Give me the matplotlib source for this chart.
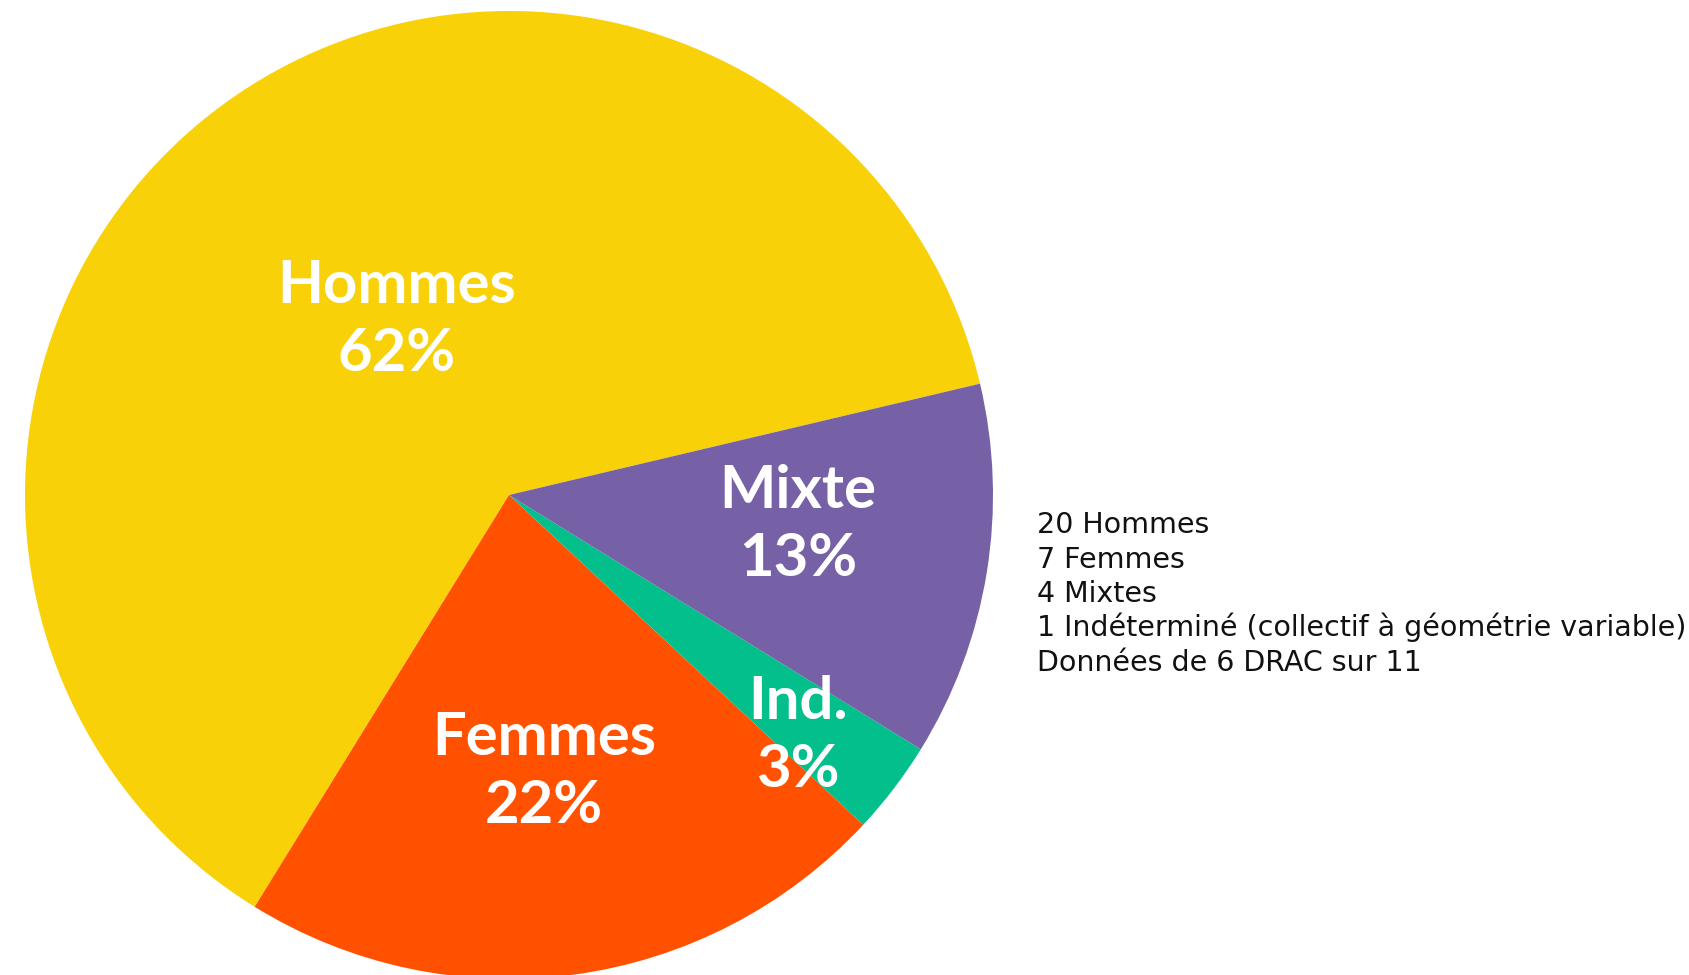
import matplotlib
matplotlib.use("Agg")
import matplotlib.pyplot as plt

categories = ["Hommes", "Femmes", "Ind.", "Mixte"]
counts = [20, 7, 1, 4]
percent_labels = ["62%", "22%", "3%", "13%"]
colors = ["#F8D108", "#FF5100", "#03BF8C", "#7661A7"]
note_lines = [
    "20 Hommes",
    "7 Femmes",
    "4 Mixtes",
    "1 Indéterminé (collectif à géométrie variable)",
    "Données de 6 DRAC sur 11",
]

W, H = 1690, 975
fig = plt.figure(figsize=(W / 100, H / 100), dpi=100)
ax = fig.add_axes([0, 0, 1, 1])

cx, cy, r = 509, H - 495, 484
ax.pie(counts, colors=colors, startangle=13.3, counterclock=True,
       center=(cx, cy), radius=r, wedgeprops=dict(linewidth=0))
ax.set_xlim(0, W)
ax.set_ylim(0, H)
ax.set_aspect("equal")
ax.axis("off")

label_pos = {
    "Hommes": (397, 320),
    "Femmes": (544, 772),
    "Ind.": (798, 736),
    "Mixte": (798, 525),
}
for cat, pct in zip(categories, percent_labels):
    x, y = label_pos[cat]
    ax.text(x, H - y, f"{cat}\n{pct}", ha="center", va="center",
            color="white", fontsize=43, fontweight="bold", family="Lato",
            linespacing=1.3)

y0 = 533
for i, line in enumerate(note_lines):
    ax.text(1037, H - (y0 + i * 34.5), line, ha="left", va="baseline",
            fontsize=20.5, family="DejaVu Sans", color="#111111")

fig.savefig("out.png", dpi=100)
